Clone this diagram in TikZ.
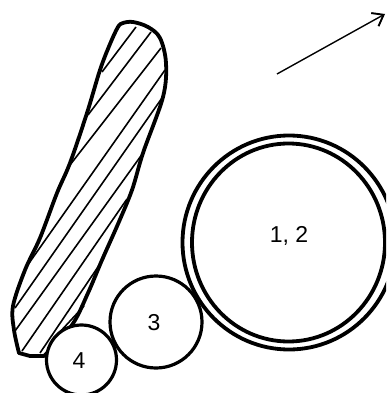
\documentclass[tikz,border=0pt]{standalone}
\usepackage{fontspec}
\setmainfont{Liberation Sans}
\usetikzlibrary{arrows.meta}
\tikzset{
  thick line/.style={draw=black,line width=3.8pt,line join=round},
  roller/.style={draw=black,line width=3.2pt,fill=white},
  hatch/.style={draw=black,line width=1.6pt},
  lab/.style={font=\fontsize{23}{26}\selectfont,inner sep=0pt}
}
\begin{document}
\begin{tikzpicture}[x=1pt,y=-1pt]
\useasboundingbox (0,0) rectangle (386,393);
\clip (0,0) rectangle (386,393);
% hatching
\draw[hatch] (136,27) -- (102,72);
\draw[hatch] (151,32) -- (88,115);
\draw[hatch] (161,48) -- (70,165);
\draw[hatch] (165,70) -- (27,266);
\draw[hatch] (162,98) -- (15,308);
\draw[hatch] (143,153) -- (15,331);
\draw[hatch] (127,199) -- (22,351);
\draw[hatch] (104,258) -- (40,353);
\draw[hatch] (84,306) -- (58,334);
% blade outline
\draw[thick line] plot[smooth,tension=0.55] coordinates {
  (19,353) (14,330) (13,306) (25,270) (40,238) (57,193) (70,163) (87,113)
  (100,70) (110,44) (118,27) (123,23) (133,22) (148,27) (160,38) (166,63)
  (163,97) (143,153) (132,190) (118,224) (102,260) (88,293) (72,325) (44,356)}
  -- (30,356) -- cycle;
% rollers
\node[roller,circle,minimum size=92pt,inner sep=0pt] (roll3) at (156,322) {};
\node[roller,circle,minimum size=70pt,inner sep=0pt] (roll4) at (81.5,360) {};
\draw[thick line] (289,242.5) ellipse [x radius=106.5, y radius=107];
\draw[thick line] (288.5,242.5) ellipse [x radius=96.5, y radius=99];
% labels
\node[lab] (l12) at (289,236) {1, 2};
\node[lab] (l3) at (154,323) {3};
\node[lab] (l4) at (79,361) {4};
% direction arrow
\coordinate (tail) at (277,74);
\coordinate (tip) at (385,14);
\draw[line width=1.4pt,-{Straight Barb[length=10pt,width=15pt,line width=1.9pt]}] (tail) -- (tip);
\end{tikzpicture}
\end{document}
